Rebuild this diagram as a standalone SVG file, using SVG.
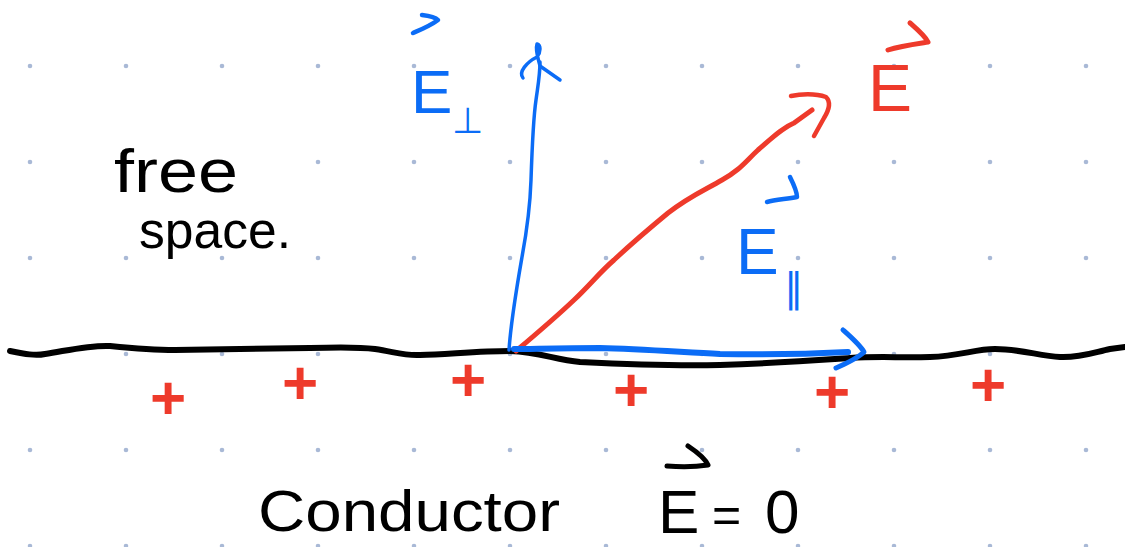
<svg xmlns="http://www.w3.org/2000/svg" width="1125" height="547" viewBox="0 0 1125 547">
<style>
.ink{fill:none;stroke-linecap:round;stroke-linejoin:round}
.k{stroke:#000}
.r{stroke:#EE3A2B}
.b{stroke:#0B6CF6}
.t{font-family:"Liberation Sans","DejaVu Sans",sans-serif}
.tk{fill:#000}
.tr{fill:#EE3A2B}
.tb{fill:#0B6CF6}
.plus{font-family:"Liberation Sans",sans-serif;font-size:62px;font-weight:bold;fill:#EE3A2B;text-anchor:middle}
</style>
<defs>
<pattern id="dots" x="0" y="0" width="96" height="96" patternUnits="userSpaceOnUse">
<circle cx="30" cy="66" r="2.3" fill="#A9B9D6"/>
</pattern>
</defs>
<rect width="1125" height="547" fill="#fff"/>
<rect id="grid" width="1125" height="547" fill="url(#dots)"/>

<g id="surface">
<path class="ink k" stroke-width="6" d="M10,351 C25,354 35,356 45,354 C70,350 90,345 110,346 C130,348 150,350 175,350 L310,348 C340,347 360,347 375,349 C395,352 405,356 420,355 C450,354 480,351 510,351 C540,352 555,360 580,362 C620,364 680,366 720,365 C780,363 820,360 850,358 C880,356 900,358 930,357 C960,356 975,349 995,349 C1020,349 1040,356 1060,357 C1080,358 1095,352 1110,349 L1125,347"/>
</g>

<g id="connectors">
<g id="arrow-E-perp">
<path class="ink b" stroke-width="3.5" d="M509,350 C511,320 518,280 522,257 C527,230 530,210 531,180 C532,150 533,120 536,100 C538,85 540,75 540,62"/>
<path class="ink b" stroke-width="3.5" d="M523,78 C518,72 527,62 537,57 C541,52 541,45 537,44 C535,50 538,58 540,66 L560,80"/>
</g>
<g id="arrow-E">
<path class="ink r" stroke-width="5" d="M516,351 C535,335 555,318 574,300 C590,285 600,272 614,260 C630,245 645,232 668,213 C690,196 705,190 722,180 C740,170 745,162 758,150 C772,138 782,128 794,123 L812,110"/>
<path class="ink r" stroke-width="4.5" d="M791,96 C800,94 815,93 826,97 C831,102 829,110 824,118 L814,136"/>
</g>
<g id="arrow-E-par">
<path class="ink b" stroke-width="6" d="M514,349 C530,349 560,348 600,348 C640,349 680,352 720,354 C770,355 810,354 848,352"/>
<path class="ink b" stroke-width="5" d="M843,330 C852,338 860,345 864,352 C858,358 845,364 836,368"/>
</g>
</g>

<g id="charges">
<text class="plus" x="168" y="419">+</text>
<text class="plus" x="300" y="404">+</text>
<text class="plus" x="468" y="401">+</text>
<text class="plus" x="631" y="411">+</text>
<text class="plus" x="832" y="413">+</text>
<text class="plus" x="988" y="406">+</text>
</g>

<g id="label-free-space">
<text class="t tk" font-size="62"><tspan x="114" y="192" textLength="124" lengthAdjust="spacingAndGlyphs">free</tspan><tspan x="139" y="248" font-size="52" textLength="152" lengthAdjust="spacingAndGlyphs">space.</tspan></text>
</g>

<g id="label-E-perp">
<path class="ink b" stroke-width="4.5" d="M422,15 C430,16 436,18 438,20 C430,26 420,30 413,33"/>
<text class="t tb" x="411" y="113" font-size="62">E<tspan x="452" y="133" font-size="36" font-family="DejaVu Sans">⊥</tspan></text>
</g>

<g id="label-E">
<path class="ink r" stroke-width="5" d="M910,23 C918,30 925,36 928,42 C915,44 900,46 888,50"/>
<text class="t tr" x="868" y="111" font-size="66">E</text>
</g>

<g id="label-E-par">
<path class="ink b" stroke-width="4.5" d="M790,177 C794,185 797,191 797,197 C786,199 775,200 767,202"/>
<text class="t tb" x="736" y="274" font-size="64">E<tspan x="784" y="302" font-size="40" font-family="DejaVu Sans">∥</tspan></text>
</g>

<g id="label-conductor">
<text class="t tk" x="258" y="531" font-size="58" textLength="302" lengthAdjust="spacingAndGlyphs">Conductor</text>
</g>

<g id="label-E-zero">
<path class="ink k" stroke-width="5" d="M688,446 C697,452 705,458 708,465 C695,467 680,467 667,466"/>
<text class="t tk" font-size="62"><tspan x="658" y="533">E</tspan><tspan x="712" y="532" font-size="50">=</tspan><tspan x="765" y="533" font-size="62">0</tspan></text>
</g>
</svg>
